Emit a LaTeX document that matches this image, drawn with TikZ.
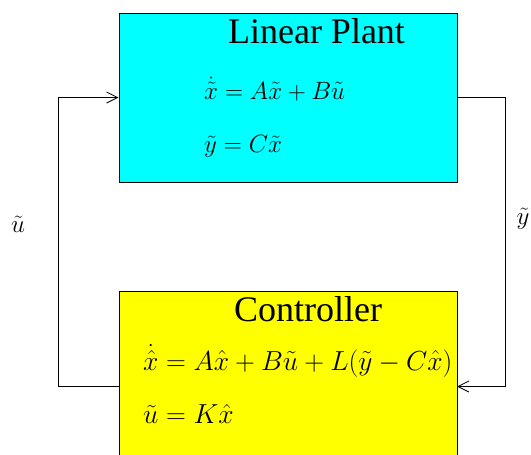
\RequirePackage{fix-cm}
\documentclass[tikz,border=0pt]{standalone}
\usepackage{fontspec}
\setmainfont{Liberation Serif}
\newfontfamily\titlefont{Liberation Serif}
\usetikzlibrary{arrows.meta}
\definecolor{plantcyan}{RGB}{0,255,255}
\definecolor{ctrlyellow}{RGB}{255,255,0}
\tikzset{
  blockbox/.style={draw=black, line width=0.8pt, rectangle, inner sep=0pt, anchor=north west},
  titletext/.style={anchor=base, inner sep=0pt, font=\titlefont\fontsize{36}{40}\selectfont},
  eqtext/.style={anchor=base west, inner sep=0pt, font=\fontsize{25}{30}\selectfont},
  ceqtext/.style={anchor=base west, inner sep=0pt, font=\fontsize{27.5}{32}\selectfont},
  sigtext/.style={inner sep=0pt, font=\fontsize{25}{30}\selectfont},
  wire/.style={draw=black, line width=0.8pt},
  arr/.style={-{Straight Barb[length=11pt,width=11pt,line width=0.8pt]}}
}
\begin{document}
\begin{tikzpicture}[x=1pt,y=-1pt]
\useasboundingbox (0,0) rectangle (531,455);
\clip (0,0) rectangle (531,455);
% blocks
\node[blockbox, fill=plantcyan, minimum width=338.5pt, minimum height=169pt] (plant) at (118.5,13) {};
\node[blockbox, fill=ctrlyellow, minimum width=338.5pt, minimum height=190pt] (ctrl) at (118.5,290.5) {};
% texts
\node[titletext] (ptitle) at (316.5,43) {Linear Plant};
\node[eqtext] (peqa) at (204,99) {$\dot{\tilde{x}} = A\tilde{x} + B\tilde{u}$};
\node[eqtext] (peqb) at (204,152.5) {$\tilde{y} = C\tilde{x}$};
\node[titletext] (ctitle) at (308,321) {Controller};
\node[ceqtext] (ceqa) at (143,370) {$\dot{\hat{x}} = A\hat{x} + B\tilde{u} + L(\tilde{y} - C\hat{x})$};
\node[ceqtext] (ceqb) at (143,423.5) {$\tilde{u} = K\hat{x}$};
% coordinates
\coordinate (pin) at (118.5,97.5);
\coordinate (pout) at (457,97.5);
\coordinate (cin) at (457,386.5);
\coordinate (cout) at (118.5,386.5);
\coordinate (lcorner) at (58.5,97.5);
\coordinate (rcorner) at (505,97.5);
% connectors
\draw[wire, arr] (cout) -| (lcorner) -- (pin);
\draw[wire, arr] (pout) -- (rcorner) |- (cin);
% signal labels
\node[sigtext] (ulabel) at (18,224) {$\tilde{u}$};
\node[sigtext, anchor=west] (ylabel) at (516.5,219) {$\tilde{y}$};
\end{tikzpicture}
\end{document}
